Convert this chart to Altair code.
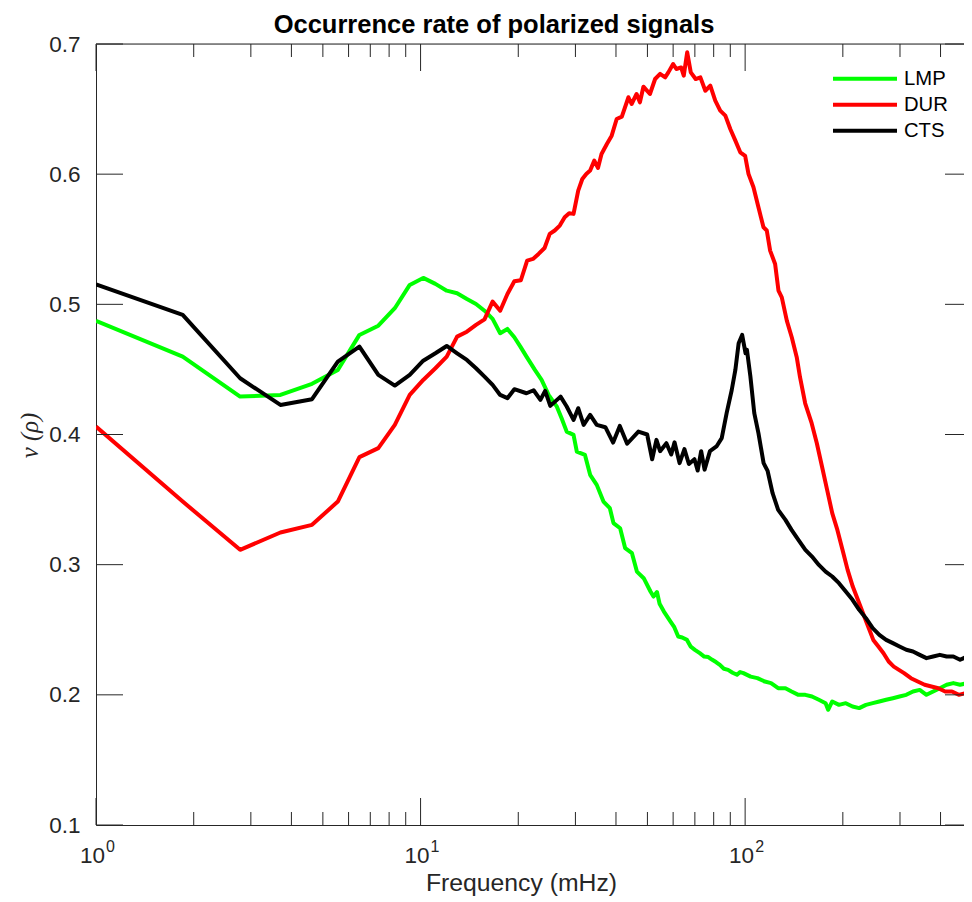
import altair as alt
import pandas as pd

# ---------------- data ----------------
series_names = ["LMP", "DUR", "CTS"]
series_colors = ["#00ff00", "#ff0000", "#000000"]

lmp_freq = [1.0, 1.85, 2.78, 3.70, 4.63, 5.56, 6.48, 7.41, 8.33, 9.26, 10.19, 11.11, 12.04,
            12.96, 13.89, 14.82, 15.74, 16.67, 17.59, 18.52, 19.45, 20.3, 21.2, 22.5, 23.6,
            24.8, 26.3, 27.2, 28.2, 29.6, 30.3, 32.1, 33.3, 34.9, 36.6, 38.3, 39.3, 41.2,
            42.7, 44.8, 46.4, 48.7, 51.1, 52.2, 53.5, 54.5, 56.2, 58.9, 60.5, 62.2, 64.0,
            66.2, 68.0, 70.0, 72.5, 74.8, 77.0, 79.2, 81.5, 83.6, 86.0, 88.6, 91.5, 94.4,
            96.5, 98.8, 104.0, 109.1, 115.0, 120.2, 126.4, 133.1, 139.0, 145.9, 153.3,
            160.7, 168.7, 177.0, 180.2, 185.5, 194.6, 204.2, 214.2, 224.6, 235.6, 247.2,
            259.1, 271.9, 285.2, 299.0, 313.7, 329.0, 345.0, 362.0, 379.6, 398.0, 417.6,
            438.0, 459.4, 481.7, 500.0]
lmp_val = [0.4873, 0.4598, 0.4291, 0.4304, 0.4389, 0.4496, 0.4765, 0.4836, 0.4970, 0.5149,
           0.5203, 0.5157, 0.5105, 0.5085, 0.5041, 0.5003, 0.4951, 0.4888, 0.4778, 0.4811,
           0.4747, 0.4675, 0.4598, 0.4496, 0.4419, 0.4304, 0.4214, 0.4125, 0.4022, 0.3997,
           0.3869, 0.3843, 0.3690, 0.3613, 0.3485, 0.3434, 0.3319, 0.3280, 0.3127, 0.3088,
           0.2947, 0.2896, 0.2794, 0.2755, 0.2790, 0.2700, 0.2640, 0.2563, 0.2520, 0.2448,
           0.2440, 0.2422, 0.2370, 0.2346, 0.2320, 0.2294, 0.2290, 0.2269, 0.2250, 0.2230,
           0.2200, 0.2192, 0.2170, 0.2154, 0.2175, 0.2167, 0.2140, 0.2128, 0.2102, 0.2090,
           0.2051, 0.2051, 0.2026, 0.2000, 0.2000, 0.1987, 0.1962, 0.1936, 0.1885, 0.1949,
           0.1923, 0.1936, 0.1910, 0.1898, 0.1923, 0.1936, 0.1949, 0.1962, 0.1974, 0.1987,
           0.2000, 0.2026, 0.2038, 0.2000, 0.2026, 0.2051, 0.2077, 0.2090, 0.2077, 0.2090,
           0.2115]

dur_freq = [1.0, 1.85, 2.78, 3.70, 4.63, 5.56, 6.48, 7.41, 8.33, 9.26, 10.19, 11.11, 12.04,
            12.96, 13.89, 14.82, 15.74, 16.67, 17.59, 18.52, 19.45, 20.37, 21.3, 22.2, 23.1,
            24.1, 25.0, 25.9, 26.85, 27.8, 28.7, 29.6, 30.6, 31.5, 32.4, 33.3, 34.3, 35.2,
            36.1, 37.5, 38.8, 40.2, 41.7, 43.7, 44.7, 46.3, 47.4, 48.6, 50.9, 52.8, 54.7,
            56.7, 58.0, 60.0, 61.4, 63.5, 64.7, 66.3, 68.0, 70.4, 72.8, 75.4, 78.1, 80.9,
            83.8, 86.9, 90.0, 93.3, 96.6, 100.0, 102.4, 106.1, 109.9, 113.9, 116.6, 119.4,
            123.7, 126.7, 129.7, 134.4, 139.2, 144.2, 147.6, 153.1, 160.3, 166.3, 172.5,
            178.9, 185.5, 192.4, 199.5, 206.9, 214.6, 222.5, 230.8, 239.3, 248.2, 257.4,
            266.9, 276.8, 287.1, 297.7, 308.8, 324.2, 340.3, 357.2, 375.0, 393.7, 413.2,
            433.8, 455.3, 478.0, 495.0, 498.0, 500.0]
dur_val = [0.4061, 0.3485, 0.3114, 0.3247, 0.3306, 0.3485, 0.3826, 0.3895, 0.4074, 0.4304,
           0.4419, 0.4509, 0.4598, 0.4752, 0.4790, 0.4842, 0.4885, 0.5021, 0.4951, 0.5080,
           0.5177, 0.5185, 0.5336, 0.5349, 0.5387, 0.5433, 0.5541, 0.5567, 0.5605, 0.5669,
           0.5700, 0.5695, 0.5874, 0.5963, 0.6002, 0.6028, 0.6104, 0.6048, 0.6155, 0.6232,
           0.6296, 0.6424, 0.6442, 0.6591, 0.6539, 0.6616, 0.6552, 0.6672, 0.6616, 0.6731,
           0.6770, 0.6744, 0.6782, 0.6846, 0.6808, 0.6820, 0.6757, 0.6936, 0.6782, 0.6731,
           0.6744, 0.6641, 0.6680, 0.6565, 0.6488, 0.6450, 0.6347, 0.6258, 0.6168, 0.6140,
           0.6002, 0.5899, 0.5746, 0.5592, 0.5567, 0.5413, 0.5310, 0.5105, 0.5054, 0.4875,
           0.4747, 0.4594, 0.4440, 0.4240, 0.4087, 0.3933, 0.3754, 0.3575, 0.3396, 0.3267,
           0.3114, 0.2960, 0.2832, 0.2730, 0.2627, 0.2525, 0.2422, 0.2371, 0.2320, 0.2256,
           0.2217, 0.2192, 0.2167, 0.2128, 0.2102, 0.2077, 0.2064, 0.2051, 0.2026, 0.2026,
           0.2000, 0.2013, 0.2026, 0.2192, 0.2100]

cts_freq = [1.0, 1.85, 2.78, 3.70, 4.63, 5.56, 6.48, 7.41, 8.33, 9.26, 10.19, 11.11, 12.04,
            12.96, 13.89, 14.82, 15.74, 16.67, 17.59, 18.52, 19.45, 21.2, 22.3, 23.4, 24.2,
            25.1, 27.0, 28.2, 29.6, 30.6, 31.8, 33.3, 34.9, 37.1, 39.2, 41.1, 43.3, 46.9,
            49.9, 51.7, 53.3, 54.7, 57.2, 59.2, 60.6, 62.8, 65.0, 67.1, 69.8, 71.4, 73.2,
            75.0, 77.9, 81.6, 84.7, 87.7, 90.9, 93.3, 95.5, 97.9, 100.3, 101.3, 103.8, 106.7,
            109.9, 114.0, 117.3, 121.5, 126.4, 133.1, 139.0, 145.9, 153.3, 160.7, 168.7,
            177.0, 185.5, 194.6, 204.2, 214.2, 224.6, 235.6, 247.2, 259.1, 271.9, 285.2,
            299.0, 313.7, 329.0, 345.0, 362.0, 379.6, 398.0, 417.6, 438.0, 459.4, 481.7,
            500.0]
cts_val = [0.5154, 0.4919, 0.4432, 0.4227, 0.4271, 0.4560, 0.4675, 0.4458, 0.4376, 0.4458,
           0.4567, 0.4624, 0.4680, 0.4624, 0.4573, 0.4509, 0.4445, 0.4381, 0.4304, 0.4279,
           0.4348, 0.4317, 0.4340, 0.4266, 0.4335, 0.4220, 0.4291, 0.4215, 0.4112, 0.4202,
           0.4074, 0.4151, 0.4074, 0.4056, 0.3938, 0.4066, 0.3929, 0.4022, 0.4000, 0.3810,
           0.3959, 0.3872, 0.3933, 0.3846, 0.3940, 0.3780, 0.3888, 0.3773, 0.3810, 0.3723,
           0.3872, 0.3730, 0.3872, 0.3908, 0.3972, 0.4164, 0.4340, 0.4496, 0.4701, 0.4765,
           0.4624, 0.4650, 0.4445, 0.4164, 0.4010, 0.3780, 0.3720, 0.3549, 0.3421, 0.3344,
           0.3267, 0.3190, 0.3114, 0.3062, 0.2998, 0.2947, 0.2909, 0.2858, 0.2794, 0.2730,
           0.2653, 0.2589, 0.2512, 0.2461, 0.2422, 0.2397, 0.2371, 0.2346, 0.2333, 0.2307,
           0.2282, 0.2294, 0.2307, 0.2294, 0.2294, 0.2269, 0.2294, 0.2346]

x_major = [1, 10, 100]
x_base_labels = ["10", "10", "10"]
x_exponents = ["0", "1", "2"]
x_minor = [2, 3, 4, 5, 6, 7, 8, 9, 20, 30, 40, 50, 60, 70, 80, 90, 200, 300, 400]
y_ticks = [0.1, 0.2, 0.3, 0.4, 0.5, 0.6, 0.7]

# ---------------- layout / style ----------------
W_FULL = 876          # full axes width (the right part runs off the page, as in the reference)
W, H = 868, 781       # drawn plot area
AX = "#262626"
SANS = "Liberation Sans"
MAJOR_LEN, MINOR_LEN = 27, 13

rows = []
for name, fs, vs in [("LMP", lmp_freq, lmp_val), ("DUR", dur_freq, dur_val), ("CTS", cts_freq, cts_val)]:
    for f, v in zip(fs, vs):
        rows.append({"series": name, "freq": f, "rate": v})
df = pd.DataFrame(rows)

xscale = alt.Scale(type="log", domain=[1, 500], nice=False, range=[0, W_FULL])
yscale = alt.Scale(domain=[0.1, 0.7], nice=False, zero=False)

lines = alt.Chart(df).mark_line(clip=True, strokeWidth=4, strokeJoin="round").encode(
    x=alt.X("freq:Q", scale=xscale,
            axis=alt.Axis(title="Frequency (mHz)", labels=False, ticks=False, domain=True, grid=False,
                          domainColor=AX, domainWidth=1,
                          titleFont=SANS, titleFontSize=24.75, titleFontWeight="normal", titleColor=AX,
                          titleX=425, titleY=65, titleAlign="center", titleBaseline="alphabetic")),
    y=alt.Y("rate:Q", scale=yscale,
            axis=alt.Axis(title="ν (ρ)", values=y_ticks, format=".1f", ticks=False, tickSize=0,
                          domain=True, domainColor=AX, domainWidth=1,
                          grid=False, labelFont=SANS, labelFontSize=22.5, labelColor=AX, labelPadding=16,
                          titleFont="Liberation Serif", titleFontStyle="italic", titleFontWeight="normal",
                          titleFontSize=24.75, titleColor=AX, titleX=-66, titleY=391, titleAngle=-90,
                          titleAlign="center", titleBaseline="middle")),
    color=alt.Color("series:N", sort=series_names,
                    scale=alt.Scale(domain=series_names, range=series_colors),
                    legend=alt.Legend(title=None, orient="none", legendX=735, legendY=23, symbolType="stroke",
                                      symbolSize=4096, symbolStrokeWidth=4, labelFontSize=20.25,
                                      labelFont=SANS, labelColor="black", clipHeight=23.5, rowPadding=2,
                                      labelOffset=5, padding=0, offset=0)),
)

major_df = pd.DataFrame({"freq": x_major, "base": x_base_labels, "exp": x_exponents})
minor_df = pd.DataFrame({"freq": x_minor})
ytick_df = pd.DataFrame({"rate": y_ticks})
edge_df = pd.DataFrame({"edge": ["top"]})


def xticks(data, y0, y1):
    return alt.Chart(data).mark_rule(color=AX, strokeWidth=1).encode(
        x=alt.X("freq:Q", scale=xscale), y=alt.value(y0), y2=alt.value(y1))


def yticks(x0, x1):
    return alt.Chart(ytick_df).mark_rule(color=AX, strokeWidth=1).encode(
        y=alt.Y("rate:Q", scale=yscale), x=alt.value(x0), x2=alt.value(x1))


top_edge = alt.Chart(edge_df).mark_rule(color=AX, strokeWidth=1).encode(
    x=alt.value(0), x2=alt.value(W_FULL), y=alt.value(0))

base_lab = alt.Chart(major_df).mark_text(align="right", baseline="alphabetic", dx=9, font=SANS,
                                         fontSize=22.5, color=AX).encode(
    x=alt.X("freq:Q", scale=xscale), y=alt.value(819), text="base:N")
exp_lab = alt.Chart(major_df).mark_text(align="left", baseline="alphabetic", dx=10, font=SANS,
                                        fontSize=16, color=AX).encode(
    x=alt.X("freq:Q", scale=xscale), y=alt.value(808), text="exp:N")

chart = alt.layer(
    lines,
    xticks(major_df, H, H - MAJOR_LEN), xticks(major_df, 0, MAJOR_LEN),
    xticks(minor_df, H, H - MINOR_LEN), xticks(minor_df, 0, MINOR_LEN),
    yticks(0, MAJOR_LEN), yticks(W_FULL, W_FULL - MAJOR_LEN),
    top_edge, base_lab, exp_lab,
).properties(
    width=W, height=H,
    autosize=alt.AutoSizeParams(type="none"),
    padding={"left": 88, "top": 36, "right": 0, "bottom": 76},
    title=alt.TitleParams("Occurrence rate of polarized signals", font=SANS, fontSize=25.5,
                          fontWeight="bold", color="black", anchor="middle", baseline="alphabetic",
                          offset=11, dx=-36, dy=36),
).configure_view(stroke=None).configure(background="white")

chart.save("out.html", embed_options={"renderer": "svg", "actions": False})
